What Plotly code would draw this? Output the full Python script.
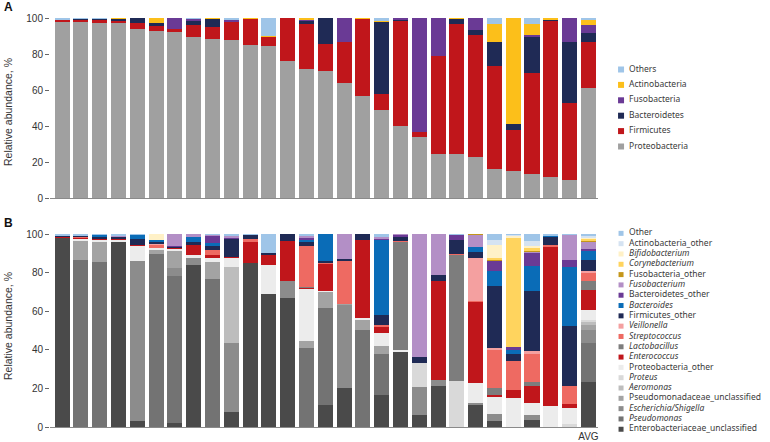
import plotly.graph_objects as go

W, H = 770, 442

samples = [f"S{i}" for i in range(1, 29)] + ["AVG"]
tick_labels = [""] * 28 + ["AVG"]

# ---------------- Panel A (phylum) ----------------
phyla = ["Proteobacteria", "Firmicutes", "Bacteroidetes", "Fusobacteria", "Actinobacteria", "Others"]
phyla_colors = ["#a0a0a0", "#c0161b", "#1f2a55", "#6a3a95", "#fcbf1a", "#9fc5e8"]

proteobacteria = [98.0, 98.0, 97.5, 97.0, 94.0, 93.0, 92.5, 89.3, 88.4, 87.8, 85.2, 84.3, 76.0, 71.6, 70.5,
                  63.7, 56.5, 49.0, 40.0, 33.8, 24.5, 24.2, 23.0, 15.9, 15.1, 13.3, 11.4, 10.1, 60.9]
firmicutes = [1.0, 1.3, 1.5, 1.5, 3.0, 3.0, 1.3, 6.6, 6.6, 10.0, 14.3, 5.5, 24.0, 25.1, 15.3,
              23.2, 43.3, 8.7, 58.7, 2.9, 54.3, 72.7, 67.4, 57.5, 22.9, 56.3, 87.1, 42.7, 25.6]
bacteroidetes = [0.3, 0.5, 0.8, 1.0, 3.0, 1.0, 0.0, 2.8, 4.5, 0.3, 0.0, 0.0, 0.0, 2.0, 14.2,
                 0.0, 0.0, 40.3, 0.7, 0.0, 0.0, 2.8, 2.8, 13.5, 3.1, 20.3, 0.7, 33.9, 5.2]
fusobacteria = [0.0, 0.0, 0.0, 0.0, 0.0, 0.0, 6.2, 0.8, 0.0, 0.7, 0.0, 0.0, 0.0, 0.5, 0.0,
                13.1, 0.0, 0.0, 0.6, 63.3, 21.2, 0.0, 6.8, 0.0, 0.0, 0.7, 0.0, 13.3, 4.6]
actinobacteria = [0.0, 0.0, 0.0, 0.5, 0.0, 3.0, 0.0, 0.0, 0.5, 0.0, 0.5, 0.4, 0.0, 0.8, 0.0,
                  0.0, 0.2, 0.5, 0.0, 0.0, 0.0, 0.3, 0.0, 10.0, 58.9, 6.1, 0.8, 0.0, 2.4]
others_a = [0.7, 0.2, 0.2, 0.0, 0.0, 0.0, 0.0, 0.5, 0.0, 1.2, 0.0, 9.8, 0.0, 0.0, 0.0,
            0.0, 0.0, 1.5, 0.0, 0.0, 0.0, 0.0, 0.0, 3.1, 0.0, 3.3, 0.0, 0.0, 1.3]
phyla_values = [proteobacteria, firmicutes, bacteroidetes, fusobacteria, actinobacteria, others_a]

# ---------------- Panel B (genus) ----------------
genera = ["Enterobacteriaceae_unclassified", "Pseudomonas", "Escherichia/Shigella",
          "Pseudomonadaceae_unclassified", "Aeromonas", "Proteus", "Proteobacteria_other",
          "Enterococcus", "Lactobacillus", "Streptococcus", "Veillonella", "Firmicutes_other",
          "Bacteroides", "Bacteroidetes_other", "Fusobacterium", "Fusobacteria_other",
          "Corynebacterium", "Bifidobacterium", "Actinobacteria_other", "Other"]
genus_italic = [False, True, True, False, True, True, False, True, True, True, True, False,
                True, False, True, False, True, True, False, False]
genus_colors = ["#4a4a4a", "#737373", "#8c8c8c", "#a3a3a3", "#bdbdbd", "#d9d9d9", "#ececec",
                "#c0161b", "#7d7d7d", "#ee6a62", "#f4a0a0", "#1f2a55",
                "#0a6cb7", "#6a3a95", "#b38fc6", "#c4961a",
                "#ffd45e", "#fff1c7", "#d5e3f2", "#9fc5e8"]

entero = [98.2, 0, 0, 96, 3.2, 0, 2.1, 83.8, 0, 7.6, 85, 69, 66.8, 0, 11.6, 20.3, 0, 16.8, 39.3, 6.4,
          21.1, 0, 11.6, 3.3, 0, 3.8, 0, 0, 23.1]
pseudomonas = [0, 86.5, 85.3, 0, 0, 89.8, 76.3, 0, 76.5, 0, 0, 0, 0, 41, 50.1, 0, 50.4, 21, 0, 0,
               0, 0, 0, 0, 0, 0, 0, 0, 20.4]
escherichia = [0, 0, 0, 0, 82.6, 0, 4, 4, 0, 36, 0, 0, 9, 0, 0, 43, 0, 0, 0, 14.2,
               3.1, 0, 0.9, 3.4, 0, 2.6, 0, 0, 6.9]
pseudo_uncl = [0, 10, 10.4, 0, 0, 1.8, 9.1, 0, 9, 0, 0, 0, 0, 3.8, 8.6, 0.3, 5.2, 4, 0, 0,
               0, 0, 0, 0, 0, 0, 0, 0, 2.6]
aeromonas = [0, 0, 0, 0, 0, 0, 0, 0, 0, 39.3, 0, 0, 0, 0, 0, 0, 0, 0, 0, 0,
             0, 0, 0, 0, 0, 0, 0, 0, 1.2]
proteus = [0, 0, 0, 0, 0, 0, 0, 0, 0, 0, 0, 0, 0, 0, 0, 0, 0, 0, 0, 12.6,
           0, 24, 0, 0, 0, 0, 0, 1.6, 1.4]
proteo_other = [0, 1.3, 1.3, 0.9, 8.3, 1.4, 0.9, 1.5, 2.5, 4.7, 0, 15, 0, 27, 0.4, 0, 0.9, 6.9, 0.5, 0,
                0, 0, 10.3, 9.2, 15.2, 6, 11, 8.2, 5.2]
enterococcus = [0.3, 0.4, 0.5, 0.5, 0.4, 0, 0.4, 5.2, 1, 0.4, 11.2, 5.2, 20.7, 0.5, 14, 0, 40.6, 3.6, 0, 0,
                51.3, 0, 42, 0.9, 3.8, 8.7, 82.6, 2.1, 10.4]
lactobacillus = [0, 0, 0, 0, 0, 0, 0, 0, 0, 0, 0, 0, 0, 0.4, 0, 0, 0, 0, 56.3, 0,
                 0, 65.3, 0, 3.4, 0, 2.2, 0, 0, 4.3]
streptococcus = [0, 0.7, 0, 0, 0, 1.8, 0.3, 0, 2.5, 0, 1, 0.3, 0, 21, 0.3, 22.6, 0, 0.4, 0.3, 0,
                 0, 0.5, 0.5, 19.9, 15, 15, 0.8, 9.2, 4.6]
veillonella = [0, 0, 0, 0, 0, 0.5, 0, 0, 0, 0, 0, 0, 0, 0, 0, 0, 0, 0, 0, 0,
               0, 0, 22.5, 0.9, 0, 0.9, 0, 0, 0.9]
firm_other = [0.8, 0.5, 0.7, 1.2, 2.8, 1.0, 0.6, 1.5, 2.5, 9.6, 2.5, 0.5, 3.5, 2.5, 0.8, 0.8, 2.9, 5.2, 2.5, 2.9,
              3.1, 7.3, 2.8, 32.1, 3.8, 31.1, 4.3, 31.4, 5.4]
bacteroides = [0, 0, 1.3, 0, 2.4, 0.7, 0, 2.5, 1.5, 0, 0, 0, 0, 0.8, 14.2, 0, 0, 39.2, 0, 0,
               0, 0, 2.5, 7.6, 2.3, 13, 0.4, 30.2, 4.6]
bact_other = [0, 0, 0, 0, 0, 0, 0.3, 0, 3.5, 0.5, 0, 0, 0, 1.3, 0, 0, 0, 0.6, 0.6, 0,
              0, 2.6, 0, 5.7, 1.2, 6.9, 0, 4, 1.2]
fusobacterium = [0, 0, 0, 0.8, 0, 0, 6.0, 1.5, 0.5, 1.2, 0, 0, 0, 0.5, 0, 13, 0, 0.8, 0.5, 63.9,
                 21.4, 0, 6.5, 0, 0, 0.9, 0, 13, 4]
fuso_other = [0, 0, 0, 0, 0, 0, 0, 0, 0, 0, 0, 0, 0, 0, 0, 0, 0, 0, 0, 0,
              0, 0, 0.4, 0.6, 0, 0.4, 0, 0, 0.3]
corynebacterium = [0, 0, 0, 0, 0, 0, 0, 0, 0, 0, 0, 0, 0, 0, 0, 0, 0, 0, 0, 0,
                   0, 0, 0, 0.4, 57, 1, 0, 0, 1.4]
bifidobacterium = [0, 0, 0, 0, 0, 3.0, 0, 0, 0, 0, 0, 0, 0, 0, 0, 0, 0, 0, 0, 0,
                   0, 0, 0, 6.7, 0.7, 1.5, 0, 0, 0.5]
actino_other = [0, 0, 0, 0, 0, 0, 0, 0, 0, 0, 0, 0, 0, 0, 0, 0, 0, 0, 0, 0,
                0, 0, 0, 2.6, 0.5, 2.5, 0, 0, 0.6]
other_b = [0.7, 0.6, 0.5, 0.6, 0.3, 0, 0, 0, 0.5, 0.7, 0.3, 10, 0, 1.2, 0, 0, 0, 1.5, 0, 0,
           0, 0.3, 0, 3.3, 0.5, 3.5, 0.9, 0.3, 1]
genus_values = [entero, pseudomonas, escherichia, pseudo_uncl, aeromonas, proteus, proteo_other,
                enterococcus, lactobacillus, streptococcus, veillonella, firm_other,
                bacteroides, bact_other, fusobacterium, fuso_other,
                corynebacterium, bifidobacterium, actino_other, other_b]

# ---------------- Figure ----------------
fig = go.Figure()

for name, col, vals in zip(phyla, phyla_colors, phyla_values):
    fig.add_trace(go.Bar(x=samples, y=vals, name=name, marker=dict(color=col, line=dict(width=0)),
                         xaxis="x", yaxis="y", showlegend=False))
for name, col, vals in zip(genera, genus_colors, genus_values):
    fig.add_trace(go.Bar(x=samples, y=vals, name=name, marker=dict(color=col, line=dict(width=0)),
                         xaxis="x2", yaxis="y2", showlegend=False))

# Custom compact legends drawn on hidden helper axes
leg_font = dict(family="Noto Sans, Open Sans, sans-serif", size=8.5, color="#3a3a3a")
a_names = phyla[::-1]
a_cols = phyla_colors[::-1]
fig.add_trace(go.Scatter(x=[0.069] * len(a_names), y=a_names, mode="markers",
                         marker=dict(symbol="square", size=6, color=a_cols, line=dict(width=0)),
                         xaxis="x3", yaxis="y3", showlegend=False, hoverinfo="skip", cliponaxis=False))
fig.add_trace(go.Scatter(x=[0.119] * len(a_names), y=a_names, mode="text", text=a_names,
                         textposition="middle right", textfont=leg_font,
                         xaxis="x3", yaxis="y3", showlegend=False, hoverinfo="skip", cliponaxis=False))

b_names = genera[::-1]
b_cols = genus_colors[::-1]
b_text = [f"<i>{n}</i>" if it else n for n, it in zip(genera, genus_italic)][::-1]
fig.add_trace(go.Scatter(x=[0.069] * len(b_names), y=b_names, mode="markers",
                         marker=dict(symbol="square", size=5, color=b_cols, line=dict(width=0)),
                         xaxis="x4", yaxis="y4", showlegend=False, hoverinfo="skip", cliponaxis=False))
fig.add_trace(go.Scatter(x=[0.119] * len(b_names), y=b_names, mode="text", text=b_text,
                         textposition="middle right", textfont=leg_font,
                         xaxis="x4", yaxis="y4", showlegend=False, hoverinfo="skip", cliponaxis=False))

xdom = [50 / W, 598 / W]
tick_font = dict(family="Liberation Sans, Arial, sans-serif", size=10, color="#333333")
xcommon = dict(domain=xdom, type="category", range=[-0.64, 28.51], showgrid=False, zeroline=False,
               showline=True, linecolor="#8a8a8a", linewidth=1, ticks="", tickfont=tick_font,
               automargin=False, fixedrange=True)
ycommon = dict(range=[0, 100], tickvals=[0, 20, 40, 60, 80, 100], ticks="outside", ticklen=4,
               tickwidth=1, tickcolor="#666666", showline=False, showgrid=False, zeroline=False,
               tickfont=tick_font, automargin=False, fixedrange=True)

hidden = dict(visible=False, showgrid=False, zeroline=False, fixedrange=True)

fig.update_layout(
    width=W, height=H, margin=dict(l=0, r=0, t=0, b=0),
    template="none", paper_bgcolor="white", plot_bgcolor="rgba(0,0,0,0)",
    barmode="stack", bargap=0.2,
    xaxis=dict(**xcommon, anchor="y", showticklabels=False),
    yaxis=dict(**ycommon, anchor="x", domain=[1 - 198 / H, 1 - 18 / H]),
    xaxis2=dict(**xcommon, anchor="y2", showticklabels=True, tickvals=samples, ticktext=tick_labels),
    yaxis2=dict(**ycommon, anchor="x2", domain=[1 - 427 / H, 1 - 234 / H]),
    xaxis3=dict(**hidden, anchor="y3", domain=[610 / W, 1.0], range=[0, 1]),
    yaxis3=dict(**hidden, anchor="x3", domain=[1 - 154.2 / H, 1 - 61.8 / H], type="category",
                range=[len(a_names) - 0.5, -0.5]),
    xaxis4=dict(**hidden, anchor="y4", domain=[610 / W, 1.0], range=[0, 1]),
    yaxis4=dict(**hidden, anchor="x4", domain=[1 - 434.4 / H, 1 - 228.2 / H], type="category",
                range=[len(b_names) - 0.5, -0.5]),
    showlegend=False,
    font=dict(family="Liberation Sans, Arial, sans-serif", color="#333333"),
)

title_font = dict(family="Liberation Sans, Arial, sans-serif", size=10.5, color="#333333")
fig.add_annotation(text="Relative abundance, %", textangle=-90, x=8 / W, y=1 - 112 / H,
                   xref="paper", yref="paper", showarrow=False, font=title_font,
                   xanchor="center", yanchor="middle")
fig.add_annotation(text="Relative abundance, %", textangle=-90, x=8 / W, y=1 - 326 / H,
                   xref="paper", yref="paper", showarrow=False, font=title_font,
                   xanchor="center", yanchor="middle")
lab_font = dict(family="Liberation Sans, Arial, sans-serif", size=12, color="#111111")
fig.add_annotation(text="<b>A</b>", x=2 / W, y=1 - 7 / H, xref="paper", yref="paper",
                   showarrow=False, font=lab_font, xanchor="left", yanchor="middle")
fig.add_annotation(text="<b>B</b>", x=2 / W, y=1 - 223 / H, xref="paper", yref="paper",
                   showarrow=False, font=lab_font, xanchor="left", yanchor="middle")

fig.write_html("out.html", config={"displayModeBar": False},
               post_script="document.body.style.margin='0';document.body.style.padding='0';")
